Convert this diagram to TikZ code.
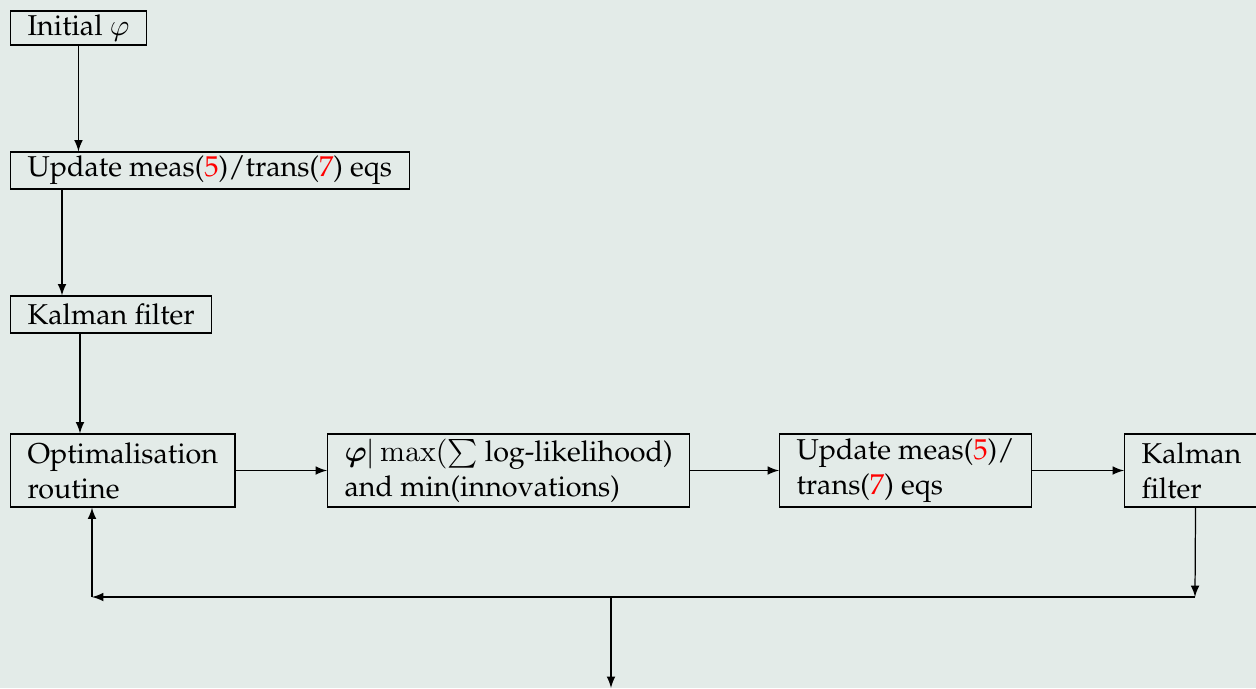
\documentclass[tikz,border=0pt]{standalone}
\usepackage[T1]{fontenc}
\usepackage{palatino}
\usepackage{amsmath}
\usepackage{amssymb}
\usepackage{xcolor}
\usepackage{tikz}
\usetikzlibrary{calc}
\definecolor{paper}{RGB}{227,235,232}
\def\pxu{0.366pt}
\begin{document}
\begin{tikzpicture}[x=0.366pt, y=-0.366pt, >=latex,
		every node/.style={font=\fontsize{10.5}{12.8}\selectfont},
		box/.style={draw, anchor=west, inner xsep=17*\pxu, inner ysep=0pt, align=left, minimum height=#1*\pxu},
		flow/.style={->, line width=0.45pt}]
	\fill[paper] (0,0) rectangle (1256,688);
	\useasboundingbox (0,0) rectangle (1256,688);
	\clip (0,0) rectangle (1256,688);
		\node[box=34](init) at (10,28){Initial $\varphi$};
		\node[box=37](upd) at (10,170.5){Update meas(\textcolor{red}{5})/trans(\textcolor{red}{7}) eqs};
		\node[box=37](kal) at (10,314.5){Kalman filter};
		\node[box=73](opt) at (10,470.5){Optimalisation\\routine};
		\node[box=73](phi) at (327,470.5){$\boldsymbol{\varphi}|\max(\sum$ log-likelihood)\\and min(innovations)};
		\node[box=73](upd2) at (779,470.5){Update meas(\textcolor{red}{5})/\\trans(\textcolor{red}{7}) eqs};
		\node[box=73, text width=108*\pxu](kal2) at (1124,470.5){Kalman\\filter};
	% feedback loop
		\coordinate(drop) at (62,0);
		\coordinate(feed) at (80,0);
		\coordinate(loopR) at (1195,597);
		\coordinate(loopL) at (92,597);
		\coordinate(out) at (611,688);
		\draw[flow] (init.south) -- (init.south |- upd.north);
		\draw[flow] (drop |- upd.south) -- (drop |- kal.north);
		\draw[flow] (feed |- kal.south) -- (feed |- opt.north);
		\draw[flow] (opt) -- (phi);
		\draw[flow] (phi) -- (upd2);
		\draw[flow] (upd2) -- (kal2);
		\draw[flow] (kal2.south) -- (loopR);
		\draw[flow] (loopR) -- (loopL);
		\draw[flow] (loopL) -- (loopL |- opt.south);
		\draw[flow] (out |- loopL) -- (out);
\end{tikzpicture}
\end{document}
